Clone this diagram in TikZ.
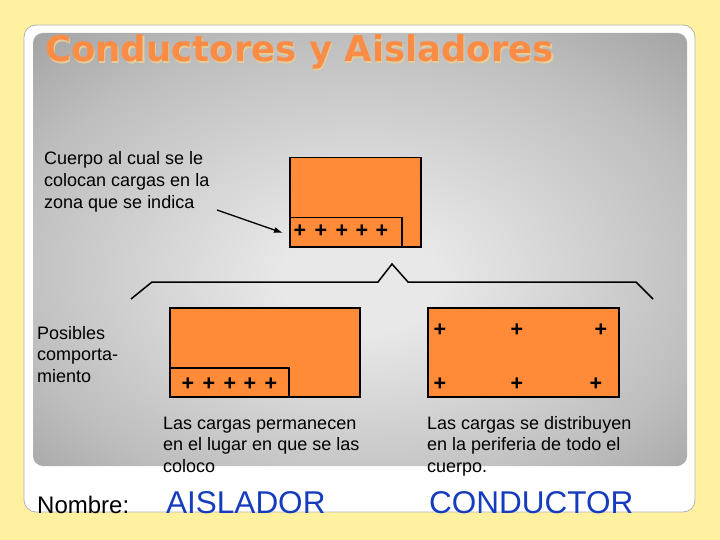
\documentclass[tikz,border=0pt]{standalone}
\usepackage{fontspec}
\setmainfont{Liberation Sans}
\newfontfamily\titlefont{DejaVu Sans}
\usetikzlibrary{arrows.meta}
\definecolor{bgyellow}{RGB}{255,241,160}
\definecolor{boxorange}{RGB}{255,138,56}
\definecolor{titleorange}{RGB}{250,140,70}
\definecolor{titleshadow}{RGB}{228,205,155}
\definecolor{nameblue}{RGB}{22,60,190}
\definecolor{pc}{RGB}{232,232,232}
\definecolor{pe}{RGB}{190,190,190}
\definecolor{pk}{RGB}{160,160,160}
\pgfdeclareradialshading{panelshade}{\pgfpoint{0bp}{-4bp}}{color(0bp)=(pc); color(6bp)=(pc); color(27bp)=(pe); color(38bp)=(pk); color(60bp)=(pk)}
\begin{document}
\begin{tikzpicture}[x=1pt,y=-1pt,
  body/.style={font=\fontsize{18}{21.7}\selectfont, align=left, anchor=base west, inner sep=0pt},
  bodybox/.style={draw=black, line width=1.5pt, fill=boxorange, inner sep=0pt, anchor=north west},
  charge/.style={font=\bfseries\fontsize{21.5}{21.5}\selectfont, inner sep=0pt},
  namefont/.style={font=\fontsize{31.5}{31.5}\selectfont, text=nameblue, anchor=base west, inner sep=0pt},
  titletext/.style={anchor=base west, inner sep=0pt, font=\titlefont\bfseries\fontsize{35.5}{35.5}\selectfont},
  wire/.style={draw=black, line width=1.5pt}]
\useasboundingbox (0,0) rectangle (720,540);
\fill[bgyellow] (0,0) rectangle (720,540);
% white slide frame
\draw[fill=white, draw=black!30, line width=0.8pt, rounded corners=12pt] (24,25) rectangle (695,512);
% grey gradient panel
\shade[shading=panelshade, rounded corners=10pt] (33,33) rectangle (687,466);
% title
\node[titletext, text=titleshadow] (titlesh) at (46.2,63.2) {Conductores y Aisladores};
\node[titletext, text=titleorange] (title) at (45,62) {Conductores y Aisladores};
% explanatory text
\node[body] (cuerpo) at (44,208.4) {Cuerpo al cual se le\\colocan cargas en la\\zona que se indica};
% top body
\node[bodybox, minimum width=131pt, minimum height=89pt] (topbox) at (289,157) {};
\node[bodybox, minimum width=112pt, minimum height=29pt] (topzone) at (289,217) {};
\foreach \i/\x in {1/300,2/321,3/342,4/362,5/382}
  \node[charge] (tp\i) at (\x,231) {+};
% arrow
\coordinate (arrs) at (217,210);
\coordinate (arre) at (283,233);
\draw[wire, line width=1.3pt, -{Latex[length=9pt,width=6pt]}] (arrs) -- (arre);
% brace
\coordinate (b1) at (131,299);
\coordinate (b2) at (152,282);
\coordinate (b3) at (378,282);
\coordinate (b4) at (392,264);
\coordinate (b5) at (408,282);
\coordinate (b6) at (636,282);
\coordinate (b7) at (653,299);
\draw[wire, line join=miter] (b1) -- (b2) -- (b3) -- (b4) -- (b5) -- (b6) -- (b7);
% left label
\node[body] (posibles) at (37,382.4) {Posibles\\comporta-\\miento};
% insulator body
\node[bodybox, minimum width=190pt, minimum height=89pt] (insbox) at (169,307) {};
\node[bodybox, minimum width=119pt, minimum height=29pt] (inszone) at (169,367) {};
\foreach \i/\x in {1/188,2/209,3/230,4/250,5/271}
  \node[charge] (ip\i) at (\x,384) {+};
% conductor body
\node[bodybox, minimum width=191pt, minimum height=89pt] (conbox) at (427,307) {};
\node[charge] (cp1) at (440,330) {+};
\node[charge] (cp2) at (517,330) {+};
\node[charge] (cp3) at (601,330) {+};
\node[charge] (cp4) at (440,384) {+};
\node[charge] (cp5) at (517,384) {+};
\node[charge] (cp6) at (596,384) {+};
% descriptions
\node[body] (insdesc) at (163,472.4) {Las cargas permanecen\\en el lugar en que se las\\coloco};
\node[body] (condesc) at (427,472.4) {Las cargas se distribuyen\\en la periferia de todo el\\cuerpo.};
% names
\node[anchor=base west, inner sep=0pt, font=\fontsize{24}{24}\selectfont] (nombre) at (37,513) {Nombre:};
\node[namefont] (aislador) at (166,513) {AISLADOR};
\node[namefont] (conductor) at (429,513) {CONDUCTOR};
\end{tikzpicture}
\end{document}
